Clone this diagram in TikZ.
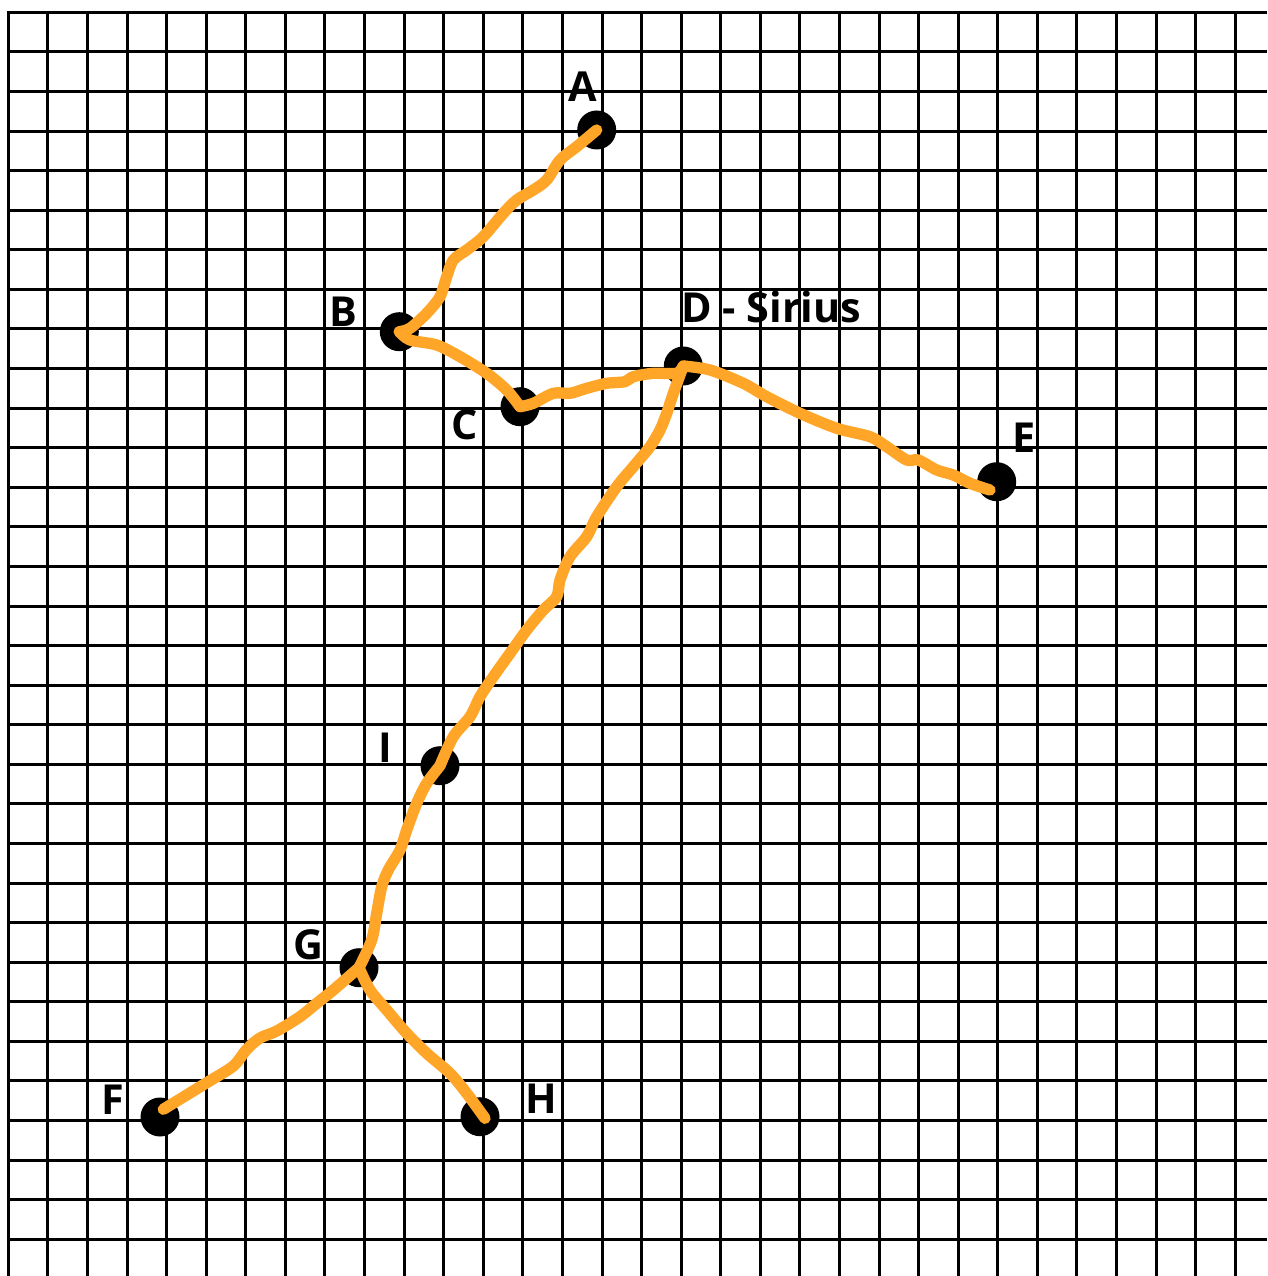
\documentclass[tikz,border=0pt]{standalone}
\usepackage{fontspec}
\setmainfont{Open Sans}
\definecolor{trailc}{RGB}{255,166,41}
\begin{document}
\begin{tikzpicture}[x=0.75pt,y=-0.75pt,
  gridline/.style={line width=2.25pt,draw=black},
  stardot/.style={circle,fill=black,inner sep=0pt,minimum size=29.25pt},
  lbl/.style={font=\fontsize{31}{36}\selectfont\bfseries,anchor=base,inner sep=0pt},
  trailline/.style={draw=trailc,line width=8.5pt,line cap=round,line join=round}]
\fill[white] (0,0) rectangle (1267,1276);
\useasboundingbox (0,0) rectangle (1267,1276);
% grid
\foreach \k in {0,...,31}{
  \pgfmathsetmacro{\gx}{8.3+39.58*\k}
  \pgfmathsetmacro{\gy}{12.3+39.58*\k}
  \draw[gridline] (\gx,10.8) -- (\gx,1276);
  \draw[gridline] (6.8,\gy) -- (1267,\gy);
}
% stars
\node[stardot] (A) at (596.7,130) {};
\node[stardot] (B) at (399.3,331.7) {};
\node[stardot] (C) at (520,406.7) {};
\node[stardot] (D) at (683.3,366) {};
\node[stardot] (E) at (996.7,481.7) {};
\node[stardot] (F) at (160,1117) {};
\node[stardot] (G) at (359,967.7) {};
\node[stardot] (H) at (480,1116.7) {};
\node[stardot] (I) at (440,765.7) {};
% labels
\node[lbl] (lA) at (582.7,101.7) {A};
\node[lbl] (lB) at (343.3,326.7) {B};
\node[lbl] (lC) at (464.7,439) {C};
\node[lbl,anchor=base west] (lD) at (681,323) {D - Sirius};
\node[lbl] (lE) at (1024.2,452.7) {E};
\node[lbl] (lF) at (113,1114.3) {F};
\node[lbl] (lG) at (308,959.3) {G};
\node[lbl] (lH) at (541.2,1113.3) {H};
\node[lbl] (lI) at (385.8,762.3) {I};
% trails
\draw[trailline] plot[smooth,tension=0.5] coordinates {(A.center) (576.7,146.7) (560,160) (546.7,180) (533.3,190) (516.7,200) (503.3,213.3) (483.3,236.7) (466.7,250) (453.3,260) (446.7,276.7) (440,296.7) (426.7,313.3) (410,328.3) (B.center)};
\draw[trailline] plot[smooth,tension=0.5] coordinates {(B.center) (410,340) (436.7,345) (460,356.7) (486.7,373.3) (506.7,390) (C.center)};
\draw[trailline] plot[smooth,tension=0.5] coordinates {(C.center) (533.3,403.3) (553.3,393.3) (570,393.3) (586.7,388.3) (606.7,383.3) (625,381.7) (633.3,376.7) (653.3,373.3) (676.7,373.3) (D.center)};
\draw[trailline] plot[smooth,tension=0.5] coordinates {(D.center) (710,370) (743.3,383.3) (766.7,396.7) (800,413.3) (836.7,428.3) (870,436.7) (886.7,446.7) (906.7,460) (918.3,460) (936.7,470) (953.3,475) (970,483.3) (990,490)};
\draw[trailline] plot[smooth,tension=0.5] coordinates {(D.center) (673.3,393.3) (666.7,413.3) (660,430) (650,446.7) (633.3,466.7) (616.7,486.7) (596.7,516.7) (586.7,536.7) (570,556.7) (560,580) (556.7,596.7) (543.3,610) (526.7,630) (510,653.3) (493.3,676.7) (480,696.7) (470,716.7) (453.3,736.7) (I.center)};
\draw[trailline] plot[smooth,tension=0.5] coordinates {(I.center) (426.7,783.3) (416.7,803.3) (406.7,830) (400,850) (388.3,870) (381.7,886.7) (376.7,913.3) (371.7,940) (G.center)};
\draw[trailline] plot[smooth,tension=0.5] coordinates {(G.center) (333.3,990) (316.7,1003.3) (300,1016.7) (276.7,1031) (260,1038) (246.7,1049.3) (233.3,1066) (206.7,1082.7) (163.3,1109.3)};
\draw[trailline] plot[smooth,tension=0.5] coordinates {(G.center) (370,990) (386.7,1010) (406.7,1033.3) (426.7,1053.3) (450,1073.3) (466.7,1093.3) (485,1118.3)};
\end{tikzpicture}
\end{document}
